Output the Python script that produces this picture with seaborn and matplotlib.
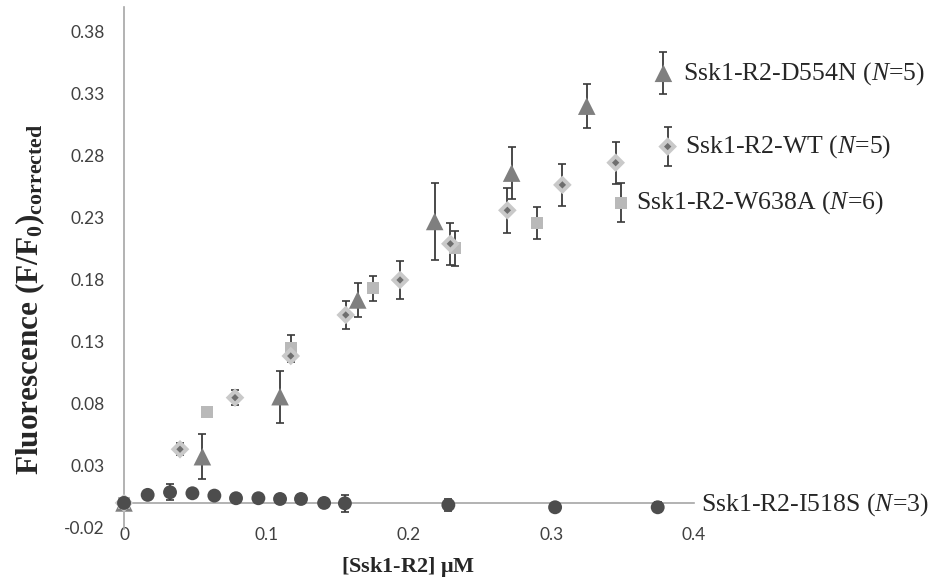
"""
Binding curves: fluorescence vs [Ssk1-R2] for four Ssk1-R2 variants
"""

import numpy as np
import pandas as pd
import matplotlib
matplotlib.use('Agg')
import matplotlib.pyplot as plt
import seaborn as sns

# D554N (triangles)
d554n_x = [0.0, 0.055, 0.1095, 0.164, 0.218, 0.272, 0.3247, 0.3785]
d554n_y = [0.0, 0.0373, 0.0857, 0.1637, 0.227, 0.266, 0.320, 0.3465]
d554n_err = [0.0, 0.018, 0.021, 0.014, 0.031, 0.021, 0.018, 0.017]

# WT (diamonds)
wt_x = [0.0, 0.0393, 0.0779, 0.117, 0.1556, 0.1937, 0.229, 0.269, 0.3076, 0.345, 0.3815]
wt_y = [0.0, 0.0433, 0.0849, 0.1185, 0.1516, 0.1798, 0.209, 0.236, 0.2565, 0.2744, 0.2874]
wt_err = [0.0, 0.005, 0.006, 0.005, 0.011, 0.015, 0.017, 0.018, 0.017, 0.017, 0.016]

# W638A (squares)
w638a_x = [0.0, 0.0585, 0.117, 0.175, 0.2323, 0.290, 0.3485]
w638a_y = [0.0, 0.0737, 0.1253, 0.173, 0.2054, 0.2255, 0.2422]
w638a_err = [0.0, 0.004, 0.010, 0.010, 0.014, 0.013, 0.016]

# I518S (circles)
i518s_x = [0.0, 0.0166, 0.0323, 0.048, 0.0634, 0.0786, 0.0943, 0.1095, 0.1242, 0.1404, 0.155, 0.2276, 0.3025, 0.3745]
i518s_y = [0.0, 0.0065, 0.0086, 0.0078, 0.0059, 0.0038, 0.0038, 0.0032, 0.0032, 0.0, -0.0003, -0.0016, -0.0035, -0.0035]
i518s_err = [0.0, 0.0, 0.0065, 0.0, 0.0, 0.0, 0.0, 0.0, 0.0, 0.0, 0.007, 0.005, 0.0, 0.004]

y_ticks = [-0.02, 0.03, 0.08, 0.13, 0.18, 0.23, 0.28, 0.33, 0.38]
x_ticks = [0, 0.1, 0.2, 0.3, 0.4]
x_tick_labels = ['0', '0.1', '0.2', '0.3', '0.4']

labels = {
    'D554N': ('Ssk1-R2-D554N (', '=5)', 0.392, 0.3465),
    'WT': ('Ssk1-R2-WT (', '=5)', 0.394, 0.2874),
    'W638A': ('Ssk1-R2-W638A (', '=6)', 0.359, 0.2422),
    'I518S': ('Ssk1-R2-I518S (', '=3)', 0.405, -0.0016),
}

SERIF = 'Liberation Serif'
ERR_COLOR = '#3a3a3a'


def build_frame():
    rows = []
    for name, xs, ys, es in [('D554N', d554n_x, d554n_y, d554n_err),
                             ('WT', wt_x, wt_y, wt_err),
                             ('W638A', w638a_x, w638a_y, w638a_err),
                             ('I518S', i518s_x, i518s_y, i518s_err)]:
        for x, y, e in zip(xs, ys, es):
            rows.append({'series': name, 'x': x, 'y': y, 'err': e})
    return pd.DataFrame(rows)


def main():
    sns.set_style('white')
    plt.rcParams['mathtext.fontset'] = 'custom'
    plt.rcParams['mathtext.rm'] = SERIF
    plt.rcParams['mathtext.it'] = SERIF + ':italic'
    plt.rcParams['mathtext.bf'] = SERIF + ':bold'

    df = build_frame()

    fig = plt.figure(figsize=(9.43, 5.79), dpi=100)
    ax = fig.add_axes([0.1315, 0.0864, 0.6045, 0.9016])

    styles = {
        'D554N': dict(marker='^', color='#7f7f7f', s=160),
        'W638A': dict(marker='s', color='#b9b9b9', s=75),
        'WT': dict(marker='D', color='#c9c9c9', s=90),
        'I518S': dict(marker='o', color='#4d4d4d', s=100),
    }
    order = ['D554N', 'W638A', 'WT', 'I518S']

    # error bars first, markers on top
    for name in order:
        sub = df[df['series'] == name]
        ax.errorbar(sub['x'], sub['y'], yerr=sub['err'], fmt='none',
                    ecolor=ERR_COLOR, elinewidth=1.3, capsize=3, capthick=1.2,
                    zorder=2, clip_on=False)

    for name in order:
        sub = df[df['series'] == name]
        st = styles[name]
        sns.scatterplot(data=sub, x='x', y='y', ax=ax, marker=st['marker'],
                        color=st['color'], s=st['s'], edgecolor='none',
                        zorder=3, clip_on=False, legend=False)
        if name == 'WT':
            # small dark centre of the diamond marker
            sns.scatterplot(data=sub, x='x', y='y', ax=ax, marker='D',
                            color='#6e6e6e', s=14, edgecolor='none',
                            zorder=3, clip_on=False, legend=False)

    # series labels next to the last points
    for name, (pre, post, lx, ly) in labels.items():
        ax.text(lx, ly, pre + r'$\mathit{N}$' + post, fontsize=18.5,
                family=SERIF, va='center', ha='left', clip_on=False)

    ax.set_xlim(0, 0.4)
    ax.set_ylim(-0.021, 0.40)
    ax.set_xticks(x_ticks)
    ax.set_xticklabels(x_tick_labels)
    ax.set_yticks(y_ticks)
    ax.set_yticklabels([f'{v:.2f}' for v in y_ticks])

    for side in ['top', 'right']:
        ax.spines[side].set_visible(False)
    ax.spines['left'].set_color('#a6a6a6')
    ax.spines['bottom'].set_color('#a6a6a6')
    ax.spines['bottom'].set_position(('data', 0))
    ax.spines['left'].set_linewidth(1.2)
    ax.spines['bottom'].set_linewidth(1.2)

    ax.tick_params(axis='x', direction='out', length=5, width=1.2,
                   color='#a6a6a6', pad=12, labelsize=12.5, labelcolor='#404040')
    ax.tick_params(axis='y', direction='out', length=6, width=1.2,
                   color='#a6a6a6', pad=8, labelsize=12.5, labelcolor='#404040')
    for lab in ax.get_xticklabels() + ax.get_yticklabels():
        lab.set_family('Lato')

    ax.set_xlabel(r'$\mathbf{[Ssk1\text{-}R2]\ \mu M}$', fontsize=16)
    ax.xaxis.set_label_coords(0.498, -0.05)
    ax.set_ylabel(r'$\mathbf{Fluorescence\ (F/F_0)_{corrected}}$', fontsize=22.5)
    ax.yaxis.set_label_coords(-0.135, 0.44)

    fig.savefig('out.png', dpi=100)
    plt.close(fig)


if __name__ == '__main__':
    main()
